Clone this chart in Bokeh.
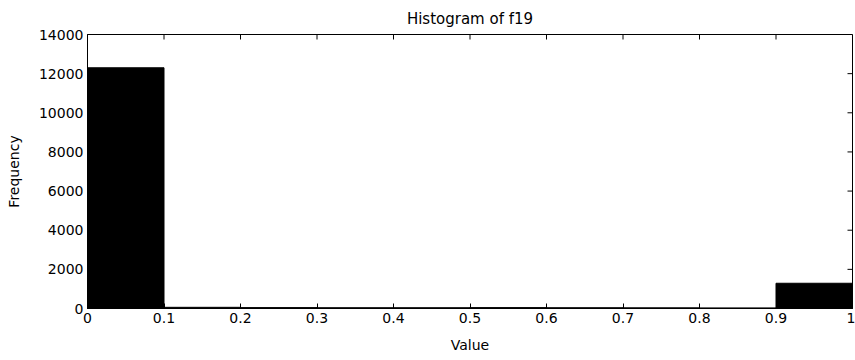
import math
from bokeh.plotting import figure
from bokeh.models import FixedTicker, LinearAxis, Range1d
from bokeh.embed import file_html
from bokeh.resources import INLINE

bin_left = [0.0, 0.1, 0.2, 0.3, 0.4, 0.5, 0.6, 0.7, 0.8, 0.9]
bin_right = [0.1, 0.2, 0.3, 0.4, 0.5, 0.6, 0.7, 0.8, 0.9, 1.0]
counts = [12300, 60, 45, 40, 40, 45, 40, 35, 30, 1290]
x_ticks = [0, 0.1, 0.2, 0.3, 0.4, 0.5, 0.6, 0.7, 0.8, 0.9, 1.0]
x_tick_labels = ["0", "0.1", "0.2", "0.3", "0.4", "0.5", "0.6", "0.7", "0.8", "0.9", "1"]
y_ticks = [0, 2000, 4000, 6000, 8000, 10000, 12000, 14000]
x_max = 1.0
y_max = 14000

FONT = "DejaVu Sans"

p = figure(width=855, height=360, output_backend="svg", toolbar_location=None,
           x_range=Range1d(0, x_max), y_range=Range1d(0, y_max),
           min_border_left=87, min_border_right=3, min_border_top=33, min_border_bottom=52,
           x_axis_location=None, y_axis_location=None)
p.title.text = "Histogram of f19"
p.title.align = "center"
p.title.text_font = FONT
p.title.text_font_size = "15px"
p.title.text_font_style = "normal"
p.title.text_color = "black"
p.title.offset = 0
p.title.standoff = 14

p.quad(left=bin_left, right=bin_right, bottom=0, top=counts,
       fill_color="black", line_color="black")

p.grid.visible = False
p.outline_line_color = "black"
p.outline_line_width = 1
p.background_fill_color = "white"
p.border_fill_color = "white"

def style(ax):
    ax.major_tick_in = 5
    ax.major_tick_out = 0
    ax.minor_tick_in = 0
    ax.minor_tick_out = 0
    ax.axis_line_color = "black"
    ax.major_tick_line_color = "black"
    ax.major_label_text_font = FONT
    ax.major_label_text_font_size = "14px"
    ax.major_label_text_color = "black"
    ax.axis_label_text_font = FONT
    ax.axis_label_text_font_size = "14px"
    ax.axis_label_text_font_style = "normal"
    ax.axis_label_text_color = "black"

xb = LinearAxis(ticker=FixedTicker(ticks=x_ticks), axis_label="Value")
xb.major_label_overrides = {t: l for t, l in zip(x_ticks, x_tick_labels)}
style(xb)
xb.major_label_standoff = 4
xb.axis_label_standoff = 11
p.add_layout(xb, "below")

yl = LinearAxis(ticker=FixedTicker(ticks=y_ticks), axis_label="Frequency")
style(yl)
yl.major_label_standoff = 4
yl.axis_label_standoff = 14
p.add_layout(yl, "left")

# inward ticks on the top and right edges of the box
p.ray(x=x_ticks, y=[y_max] * len(x_ticks), length=5, length_units="screen",
      angle=-math.pi / 2, line_color="black", line_width=1)
p.ray(x=[x_max] * len(y_ticks), y=y_ticks, length=5, length_units="screen",
      angle=math.pi, line_color="black", line_width=1)

open("out.html", "w").write(file_html(p, INLINE))
